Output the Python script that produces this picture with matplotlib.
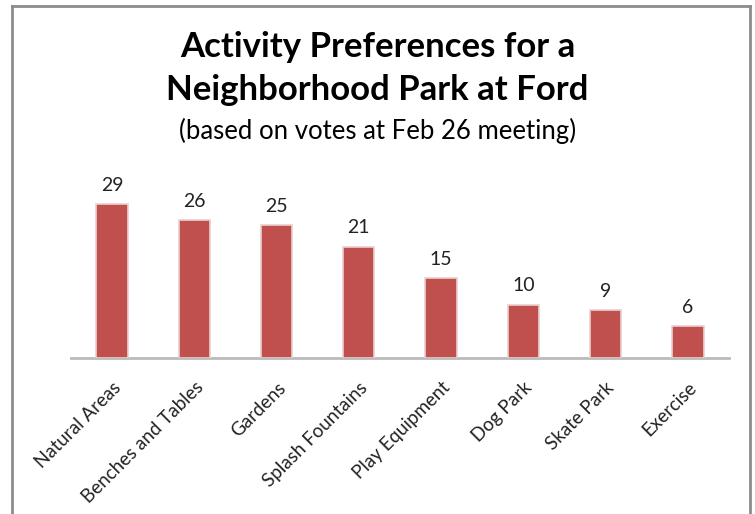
import matplotlib
matplotlib.use("Agg")
import matplotlib.pyplot as plt
from matplotlib.lines import Line2D

categories = ["Natural Areas", "Benches and Tables", "Gardens", "Splash Fountains",
              "Play Equipment", "Dog Park", "Skate Park", "Exercise"]
votes = [29, 26, 25, 21, 15, 10, 9, 6]

title_line1 = "Activity Preferences for a"
title_line2 = "Neighborhood Park at Ford"
subtitle = "(based on votes at Feb 26 meeting)"

plt.rcParams['font.family'] = ['Lato', 'DejaVu Sans']

fig = plt.figure(figsize=(7.55, 5.14), dpi=100)
ax = fig.add_axes([0.094, 0.3035, 0.8716, 0.361])

x = range(len(categories))
ax.bar(x, votes, width=0.38, color='#C0504D', edgecolor='#E8D0CF', linewidth=1.2, zorder=3)
for i, v in zip(x, votes):
    ax.text(i, v + 2.0, str(v), ha='center', va='bottom', fontsize=14, color='#222222')

ax.set_xlim(-0.5, len(categories) - 0.5)
ax.set_ylim(0, 35)
ax.set_yticks([])
ax.set_xticks(list(x))
ax.set_xticklabels(categories, rotation=45, ha='right', rotation_mode='anchor',
                   fontsize=13.5, color='#222222')
ax.tick_params(axis='x', length=0, pad=15)
for s in ['top', 'right', 'left']:
    ax.spines[s].set_visible(False)
ax.spines['bottom'].set_color('#BBBBBB')
ax.spines['bottom'].set_linewidth(2)

fig.text(0.5, 1 - 47 / 514, title_line1, ha='center', va='center', fontsize=25, fontweight='bold')
fig.text(0.5, 1 - 90 / 514, title_line2, ha='center', va='center', fontsize=25, fontweight='bold')
fig.text(0.5, 1 - 131 / 514, subtitle, ha='center', va='center', fontsize=18.5)

# outer frame (bottom edge is cut off)
frame_color = '#8C8C8C'
fig.add_artist(Line2D([12 / 755, 12 / 755], [0, 1 - 6 / 514], transform=fig.transFigure, color=frame_color, lw=2))
fig.add_artist(Line2D([750 / 755, 750 / 755], [0, 1 - 6 / 514], transform=fig.transFigure, color=frame_color, lw=2))
fig.add_artist(Line2D([12 / 755, 750 / 755], [1 - 6 / 514, 1 - 6 / 514], transform=fig.transFigure, color=frame_color, lw=2))

fig.savefig("out.png", dpi=100)
